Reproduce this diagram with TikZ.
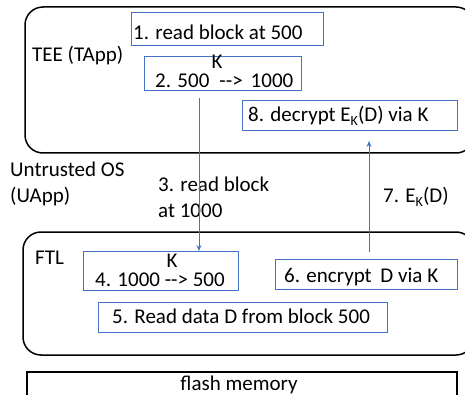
\documentclass[tikz,border=0pt]{standalone}
\usepackage{fontspec}
\setmainfont{Carlito}
\usetikzlibrary{arrows.meta}
\definecolor{officeblue}{HTML}{4472C4}
\newcommand{\subK}{\raisebox{-0.35ex}{\fontsize{14}{14}\selectfont K}}
\tikzset{
  zone/.style={draw=black, line width=1.5pt, rounded corners=18pt},
  bluebox/.style={draw=officeblue, line width=1pt, inner sep=0pt, anchor=north west},
  memory/.style={draw=black, line width=1.5pt, inner sep=0pt, anchor=north west},
  txt/.style={inner sep=0pt, anchor=base west, font=\fontsize{21}{24}\selectfont},
  flow/.style={draw=officeblue, line width=0.8pt, -{Stealth[length=6pt,width=5pt]}}
}
\begin{document}
\begin{tikzpicture}[x=1pt,y=-1pt]
\useasboundingbox (0,0) rectangle (465,395);

% trusted and untrusted zones
\draw[zone] (25,7) rectangle (474,153);
\draw[zone] (23,232) rectangle (474,355);

% flash memory
\node[memory, minimum width=430pt, minimum height=24pt] (flash) at (26,371) {};
\node[txt, anchor=base] (flasht) at (239,390) {flash memory};

% TEE side
\node[txt] (tee) at (32,62) {TEE (TApp)};
\node[bluebox, minimum width=192pt, minimum height=33pt] (b1) at (131,12) {};
\node[txt] (t1) at (133,40) {1. read block at 500};
\node[bluebox, minimum width=157pt, minimum height=34pt] (b2) at (144,56) {};
\node[txt, anchor=base] (k2) at (217,69) {K};
\node[txt] (t2) at (155,88) {2. 500\hspace{10pt}-{}->\hspace{8pt}1000};
\node[bluebox, minimum width=215pt, minimum height=30pt] (b8) at (242,100) {};
\node[txt] (t8) at (248,122) {8. decrypt E\subK(D) via K};

% untrusted OS labels
\node[txt] (uos) at (10,177) {Untrusted OS};
\node[txt] (uapp) at (10,203) {(UApp)};
\node[txt] (t3a) at (158,192) {3. read block};
\node[txt] (t3b) at (158,217) {at 1000};
\node[txt] (t7) at (383,203) {7. E\subK(D)};

% FTL side
\node[txt] (ftl) at (35,264) {FTL};
\node[bluebox, minimum width=155pt, minimum height=39pt] (b4) at (83,251) {};
\node[txt, anchor=base] (k4) at (172,267) {K};
\node[txt] (t4) at (95,286) {4. 1000 -{}-> 500};
\node[bluebox, minimum width=182pt, minimum height=30pt] (b6) at (275,259) {};
\node[txt] (t6) at (284,282) {6. encrypt\hspace{4pt} D via K};
\node[bluebox, minimum width=289pt, minimum height=30pt] (b5) at (98,302) {};
\node[txt] (t5) at (112,323) {5. Read data D from block 500};

% messages between the zones
\coordinate (s3) at (199,98);
\coordinate (s7) at (369,252);
\coordinate (e7) at (369,141);
\draw[flow] (s3) -- (s3 |- b4.north);
\draw[flow] (s7) -- (e7);
\end{tikzpicture}
\end{document}
